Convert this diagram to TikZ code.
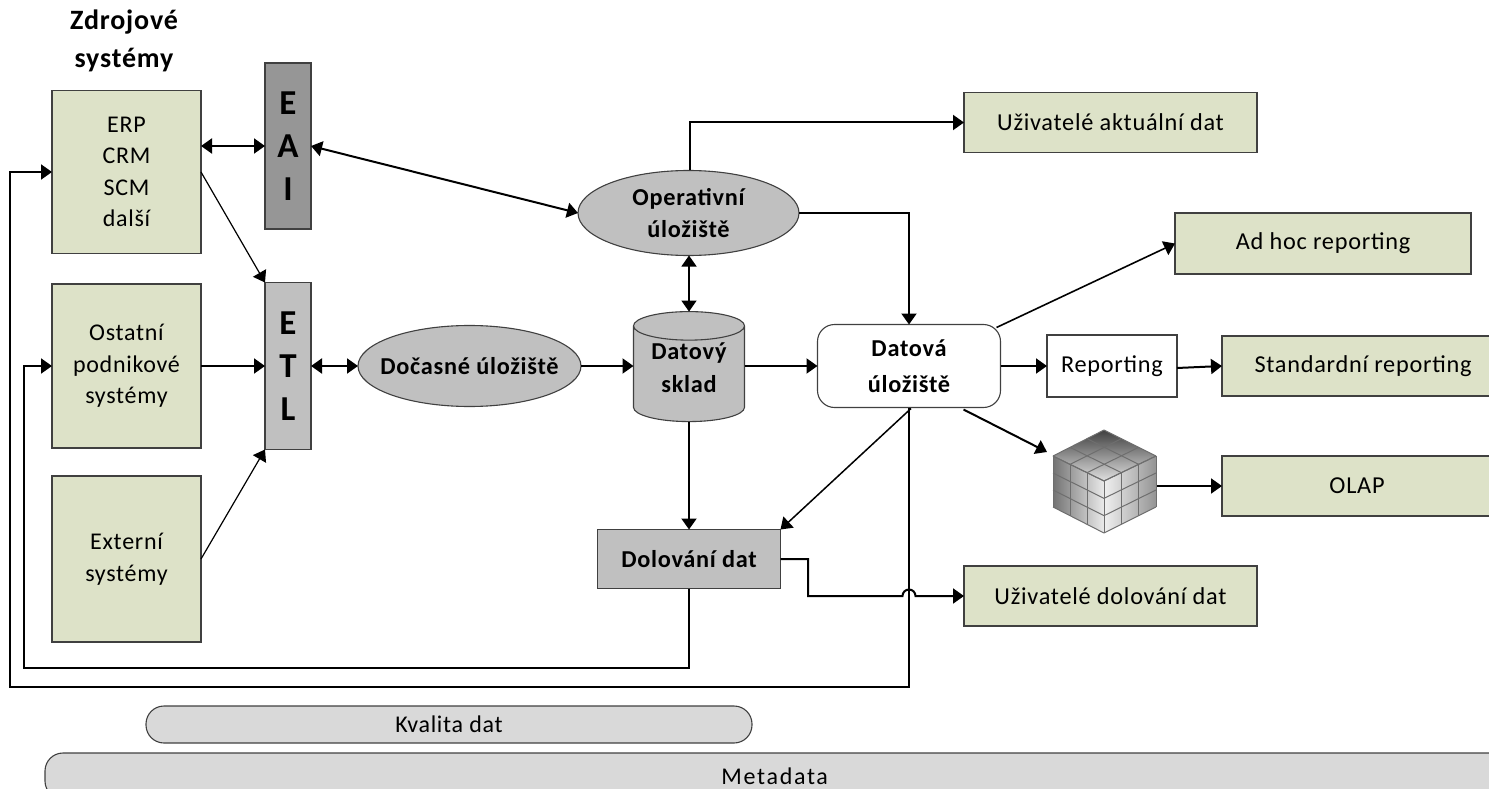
\documentclass[tikz,border=0pt]{standalone}
\usepackage{fontspec}
\setmainfont[LetterSpace=3]{Carlito}
\usetikzlibrary{arrows.meta,shapes.geometric,calc}
\definecolor{grn}{HTML}{DDE2C8}
\definecolor{edgegr}{HTML}{404040}
\definecolor{greyb}{HTML}{C0C0C0}
\definecolor{eaig}{HTML}{969696}
\definecolor{pillg}{HTML}{D9D9D9}
\definecolor{cubeg}{HTML}{6E6E6E}
\tikzset{
  base/.style={draw=edgegr,line width=1.1pt,inner sep=0pt,outer sep=0pt,align=center,text=black},
  src/.style={base,fill=grn,font=\fontsize{24}{31.5}\selectfont,minimum width=149pt},
  usr/.style={base,fill=grn,font=\fontsize{24.3}{29}\selectfont,minimum height=60pt},
  bar/.style={base,font=\fontsize{35}{43}\selectfont\bfseries,minimum width=46pt},
  ell/.style={base,ellipse,fill=greyb,font=\fontsize{24.3}{32}\selectfont\bfseries},
  pill/.style={base,fill=pillg,rounded corners=18pt,font=\fontsize{24}{29}\selectfont},
  conn/.style={draw=black,line width=2pt,-{Triangle[length=11pt,width=15pt]}},
  bidir/.style={draw=black,line width=2pt,{Triangle[length=11pt,width=15pt]}-{Triangle[length=11pt,width=15pt]}},
  thin conn/.style={conn,line width=1.2pt},
  cubeline/.style={draw=cubeg,line width=1pt},
}
\begin{document}
\begin{tikzpicture}[x=1pt,y=-1pt]
\useasboundingbox (0,0) rectangle (1489,789);
\clip (0,0) rectangle (1489,789);
% title
\node[align=center,font=\fontsize{28}{38}\selectfont\bfseries] (title) at (124,41) {Zdrojové\\systémy};
% sources
\node[src,minimum height=163pt] (erp) at (126.5,172) {ERP\\CRM\\SCM\\další};
\node[src,minimum height=164pt] (ost) at (126.5,366) {Ostatní\\podnikové\\systémy};
\node[src,minimum height=166pt] (ext) at (126.5,559) {Externí\\systémy};
% bars
\node[bar,fill=eaig,minimum height=166pt] (eai) at (288,146) {E\\A\\I};
\node[bar,fill=greyb,minimum height=167pt] (etl) at (288,366) {E\\T\\L};
% stores
\node[ell,minimum width=221pt,minimum height=85pt] (op) at (688.5,213) {Operativní\\úložiště};
\node[ell,minimum width=223pt,minimum height=81pt] (doc) at (469.5,366) {\makebox[0pt]{Dočasné úložiště}};
\node[base,cylinder,shape border rotate=90,aspect=0.38,minimum width=111pt,minimum height=110pt,cylinder uses custom fill,cylinder body fill=greyb,cylinder end fill=greyb,font=\fontsize{24.3}{33}\selectfont\bfseries] (sklad) at (689,374) {\phantom{Datový}\\\phantom{sklad}};
\node[align=center,inner sep=0pt,font=\fontsize{24.3}{33}\selectfont\bfseries] (skladtxt) at (689,368) {Datový\\sklad};
\node[base,fill=white,rounded corners=17pt,minimum width=183pt,minimum height=83pt,font=\fontsize{24.3}{36}\selectfont\bfseries] (dat) at (909,366) {Datová\\úložiště};
\node[base,fill=white,minimum width=130pt,minimum height=62pt,font=\fontsize{24.3}{29}\selectfont] (rep) at (1112,366) {Reporting};
\node[base,fill=greyb,minimum width=183pt,minimum height=59pt,font=\fontsize{24.3}{29}\selectfont\bfseries] (dol) at (689,559) {Dolování dat};
% users
\node[usr,minimum width=293pt] (uakt) at (1110.5,122.5) {Uživatelé aktuální dat};
\node[usr,minimum width=296pt,minimum height=61pt] (adh) at (1323,243.5) {Ad hoc reporting};
\node[usr,minimum width=270pt] (std) at (1357,366) {\hspace*{12pt}Standardní reporting};
\node[usr,minimum width=270pt] (olap) at (1357,486) {OLAP};
\node[usr,minimum width=293pt] (udol) at (1110.5,596) {Uživatelé dolování dat};
% pills
\node[pill,minimum width=606pt,minimum height=37pt] (kval) at (449,724.5) {Kvalita dat};
\node[pill,minimum width=1470pt,minimum height=46pt,text width=1463pt,align=left] (meta) at (780,776) {\hspace*{673pt}\addfontfeature{LetterSpace=7}Metadata};
% cube
\coordinate (cT) at (1104,430);
\coordinate (cL) at (1053,456);
\coordinate (cR) at (1156,456);
\coordinate (cC) at (1104,481);
\coordinate (cB) at (1104,533);
\coordinate (cLb) at (1053,507);
\coordinate (cRb) at (1156,507);
\begin{scope}
\clip (cT)--(cR)--(cC)--(cL)--cycle;
\shade[top color=black!75,bottom color=black!12] (1050,430) rectangle (1160,481);
\end{scope}
\begin{scope}
\clip (cL)--(cC)--(cB)--(cLb)--cycle;
\shade[left color=black!55,right color=black!8] (1053,456) rectangle (1104,533);
\end{scope}
\begin{scope}
\clip (cC)--(cR)--(cRb)--(cB)--cycle;
\shade[left color=black!6,right color=black!42] (1104,456) rectangle (1156,533);
\end{scope}
\foreach \t in {0,1,2,3}{
  \draw[cubeline] ($(cL)!\t/3!(cT)$) -- ($(cC)!\t/3!(cR)$);
  \draw[cubeline] ($(cC)!\t/3!(cL)$) -- ($(cR)!\t/3!(cT)$);
  \draw[cubeline] ($(cL)!\t/3!(cC)$) -- ($(cLb)!\t/3!(cB)$);
  \draw[cubeline] ($(cC)!\t/3!(cR)$) -- ($(cB)!\t/3!(cRb)$);
  \draw[cubeline] ($(cL)!\t/3!(cLb)$) -- ($(cC)!\t/3!(cB)$);
  \draw[cubeline] ($(cC)!\t/3!(cB)$) -- ($(cR)!\t/3!(cRb)$);
}
\coordinate (cubeNW) at (1047,452);
\coordinate (cubeE) at (1157,486);
% connectors
\draw[bidir] ([yshift=26pt]erp.east) -- (eai.west);
\draw[bidir] (eai.east) -- (op.west);
\draw[thin conn] (erp.east) -- (etl.north west);
\draw[conn] (ost.east) -- (ost.east -| etl.west);
\draw[thin conn] (ext.east) -- (etl.south west);
\draw[bidir] (etl.east) -- (doc.west);
\draw[conn] (doc.east) -- (doc.east -| sklad.west);
\draw[conn] (sklad.east |- dat.west) -- (dat.west);
\draw[conn] (sklad.south) -- (dol.north);
\draw[bidir,line width=1.4pt] (sklad.north |- op.south) -- (sklad.north);
\draw[conn] ([xshift=1.5pt]op.north) |- (uakt.west);
\draw[conn] (op.east) -| (dat.north);
\draw[thin conn,line width=1.6pt] ([xshift=-4pt,yshift=-3pt]dat.north east) -- (adh.west);
\draw[conn] (dat.east) -- (rep.west);
\draw[conn] ([yshift=-2pt]rep.east) -- (std.west);
\draw[conn] ([xshift=-37pt,yshift=-2pt]dat.south east) -- (cubeNW);
\draw[conn] (cubeE) -- (olap.west);
\draw[thin conn,line width=1.5pt] ([xshift=2pt,yshift=-1pt]dat.south) -- (dol.north east);
\draw[conn] (dol.east) -- (808,559) -- (808,596) -- (902.5,596) arc[start angle=180,end angle=0,radius=6.5pt] -- (udol.west);
\draw[conn] (dol.south) -- (689,668) -- (24,668) |- (ost.west);
\draw[conn] (dat.south) -- (909,687) -- (10,687) |- (erp.west);
\end{tikzpicture}
\end{document}
